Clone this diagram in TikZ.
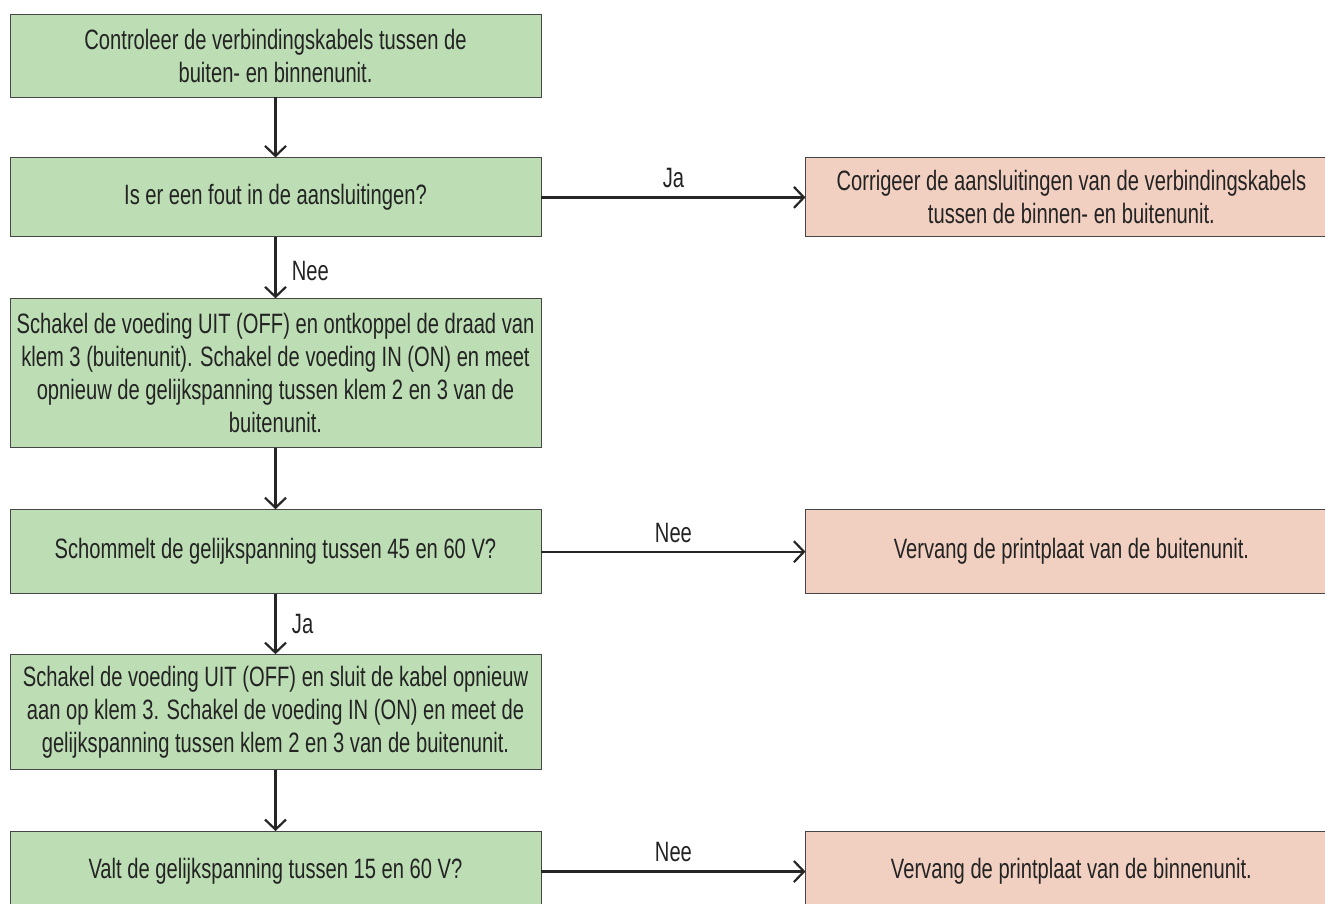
\documentclass[tikz,border=0pt]{standalone}
\usepackage{fontspec}
\setmainfont{Liberation Sans}[FakeStretch=0.72]
\usetikzlibrary{shapes,arrows.meta,positioning}
\definecolor{boxgreen}{RGB}{189,222,180}
\definecolor{boxpink}{RGB}{242,208,193}
\definecolor{edge}{RGB}{70,70,70}
\definecolor{ink}{RGB}{35,35,35}
\tikzstyle{test}=[rectangle,draw=edge,line width=0.9pt,fill=boxgreen,align=center,minimum width=531pt,inner sep=0pt,font=\fontsize{28}{33}\selectfont,text=ink]
\tikzstyle{fix}=[test,fill=boxpink]
\tikzstyle{arr}=[-{Straight Barb[length=10pt,width=21pt]},line width=2.2pt,black!85]
\tikzstyle{lbl}=[font=\fontsize{28}{33}\selectfont,text=ink]

\begin{document}
\begin{tikzpicture}[node distance=60pt]
\clip (0,0) rectangle (1325pt,-903pt);
\node[test,minimum height=83pt] (A) at (275.5pt,-55.5pt) {Controleer de verbindingskabels tussen de\\buiten- en binnenunit.};
\node[test,minimum height=79pt,below=of A] (B) {Is er een fout in de aansluitingen?};
\node[fix,minimum height=79pt,right=264pt of B] (C) {Corrigeer de aansluitingen van de verbindingskabels\\tussen de binnen- en buitenunit.};
\node[test,minimum height=149pt,below=61pt of B] (D) {Schakel de voeding UIT (OFF) en ontkoppel de draad van\\klem 3 (buitenunit). Schakel de voeding IN (ON) en meet\\opnieuw de gelijkspanning tussen klem 2 en 3 van de\\buitenunit.};
\node[test,minimum height=84pt,below=61pt of D] (E) {Schommelt de gelijkspanning tussen 45 en 60 V?};
\node[fix,minimum height=84pt,right=264pt of E] (F) {Vervang de printplaat van de buitenunit.};
\node[test,minimum height=115pt,below=of E] (G) {Schakel de voeding UIT (OFF) en sluit de kabel opnieuw\\aan op klem 3. Schakel de voeding IN (ON) en meet de\\gelijkspanning tussen klem 2 en 3 van de buitenunit.};
\node[test,minimum height=80pt,below=61pt of G] (H) {Valt de gelijkspanning tussen 15 en 60 V?};
\node[fix,minimum height=80pt,right=264pt of H] (I) {Vervang de printplaat van de binnenunit.};
\draw[arr] (A) -- (B);
\draw[arr] (B) -- node[lbl,above=5pt] {Ja} (C);
\draw[arr] (B) -- node[lbl,right=12pt,yshift=-3pt] {Nee} (D);
\draw[arr] (D) -- (E);
\draw[arr] (E) -- node[lbl,above=5pt] {Nee} (F);
\draw[arr] (E) -- node[lbl,right=12pt] {Ja} (G);
\draw[arr] (G) -- (H);
\draw[arr] (H) -- node[lbl,above=5pt] {Nee} (I);
\end{tikzpicture}
\end{document}
